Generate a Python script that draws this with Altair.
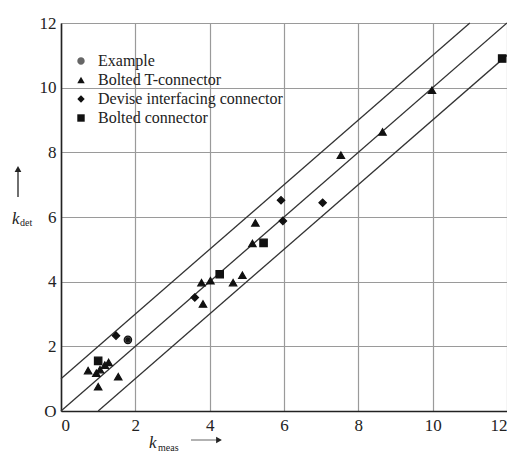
import altair as alt
import pandas as pd

categories = ["Example", "Bolted T-connector", "Devise interfacing connector", "Bolted connector"]

example_x = [1.8]
example_y = [2.2]

tconn_x = [0.73, 1.05, 1.18, 1.28, 0.95, 1.54, 1.0, 3.78, 4.02, 4.63, 4.88, 3.82, 5.23, 5.15, 7.53, 8.65, 9.98]
tconn_y = [1.25, 1.28, 1.42, 1.50, 1.17, 1.06, 0.75, 3.97, 4.03, 3.97, 4.20, 3.31, 5.82, 5.18, 7.91, 8.63, 9.92]

devise_x = [1.48, 3.60, 5.92, 7.04, 5.97]
devise_y = [2.33, 3.51, 6.52, 6.44, 5.88]

bolted_x = [1.0, 4.27, 5.45, 11.87]
bolted_y = [1.55, 4.23, 5.20, 10.90]

# diagonal reference lines: y = x + 1, y = x, y = x - 1
line_names = ["upper", "upper", "middle", "middle", "lower", "lower"]
line_x = [0, 11, 0, 12, 1, 12]
line_y = [1, 12, 0, 12, 0, 11]

ticks = [0, 2, 4, 6, 8, 10, 12]

rows = []
for cat, xs, ys in [(categories[0], example_x, example_y),
                    (categories[1], tconn_x, tconn_y),
                    (categories[2], devise_x, devise_y),
                    (categories[3], bolted_x, bolted_y)]:
    for a, b in zip(xs, ys):
        rows.append({"kmeas": a, "kdet": b, "type": cat})
pts = pd.DataFrame(rows)
lines = pd.DataFrame({"name": line_names, "x": line_x, "y": line_y})

FONT = "Liberation Serif"

xscale = alt.Scale(domain=[0, 12], nice=False, zero=False)
yscale = alt.Scale(domain=[0, 12], nice=False, zero=False)

xaxis = alt.Axis(values=ticks, title=None, grid=True, gridColor="#9a9a9a", gridWidth=1.2,
                 domainColor="#222", domainWidth=1.6, tickSize=0, labelPadding=6,
                 labelFont=FONT, labelFontSize=17, labelColor="#222")
yaxis = alt.Axis(values=ticks, title=None, grid=True, gridColor="#9a9a9a", gridWidth=1.2,
                 domainColor="#222", domainWidth=1.6, tickSize=0, labelPadding=5,
                 labelFont=FONT, labelFontSize=17, labelColor="#222",
                 labelExpr="datum.value == 0 ? 'O' : datum.label")

diag = alt.Chart(lines).mark_line(color="#333", strokeWidth=1.3).encode(
    x=alt.X("x:Q", scale=xscale, axis=xaxis),
    y=alt.Y("y:Q", scale=yscale, axis=yaxis),
    detail="name:N",
)

example_shape = "M-1,0A1,1 0 1,1 1,0A1,1 0 1,1 -1,0Z M-0.75,0L0.75,0 M0,-0.75L0,0.75 M-0.5,-0.5L0.5,0.5 M-0.5,0.5L0.5,-0.5"

legend_cfg = dict(title=None, orient="none", legendX=12, legendY=30,
                  labelFont=FONT, labelFontSize=16, labelColor="#222",
                  symbolSize=55, rowPadding=3, labelLimit=400,
                  symbolStrokeColor="#111", symbolStrokeWidth=1.2,
                  labelOffset=9)

points = alt.Chart(pts).mark_point(filled=True, size=55, stroke="#111", strokeWidth=1.2, opacity=1).encode(
    x=alt.X("kmeas:Q", scale=xscale),
    y=alt.Y("kdet:Q", scale=yscale),
    shape=alt.Shape("type:N", scale=alt.Scale(domain=categories,
                    range=[example_shape, "triangle-up", "diamond", "square"]),
                    legend=alt.Legend(**legend_cfg)),
    fill=alt.Fill("type:N", scale=alt.Scale(domain=categories,
                  range=["#666", "#111", "#111", "#111"]),
                  legend=alt.Legend(**legend_cfg)),
)

# axis titles with subscripts and arrows
k_y = alt.Chart().mark_text(font=FONT, fontSize=17, fontStyle="italic", color="#222", align="left").encode(
    x=alt.value(-49), y=alt.value(196), text=alt.value("k"))
sub_y = alt.Chart().mark_text(font=FONT, fontSize=10, color="#222", align="left").encode(
    x=alt.value(-41), y=alt.value(200), text=alt.value("det"))
arr_y = alt.Chart().mark_rule(color="#222", strokeWidth=1.3).encode(
    x=alt.value(-43), y=alt.value(147), y2=alt.value(174))
head_y = alt.Chart().mark_point(shape="triangle-up", filled=True, color="#222", size=45, opacity=1).encode(
    x=alt.value(-43), y=alt.value(146))

k_x = alt.Chart().mark_text(font=FONT, fontSize=17, fontStyle="italic", color="#222", align="left").encode(
    x=alt.value(88), y=alt.value(420), text=alt.value("k"))
sub_x = alt.Chart().mark_text(font=FONT, fontSize=10, color="#222", align="left").encode(
    x=alt.value(97), y=alt.value(425), text=alt.value("meas"))
arr_x = alt.Chart().mark_rule(color="#888", strokeWidth=1.3).encode(
    x=alt.value(130), x2=alt.value(156), y=alt.value(417))
head_x = alt.Chart().mark_point(shape="triangle-right", filled=True, color="#222", size=45, opacity=1).encode(
    x=alt.value(158), y=alt.value(417))

chart = alt.layer(diag, points, k_y, sub_y, arr_y, head_y, k_x, sub_x, arr_x, head_x).properties(
    width=446, height=388,
    padding={"left": 53, "top": 15, "right": 0, "bottom": 44},
    autosize=alt.AutoSizeParams(type="none"),
).configure_view(stroke="#222", strokeWidth=1.6).configure(background="white")

chart.save("out.html", embed_options={"renderer": "svg", "actions": False})
